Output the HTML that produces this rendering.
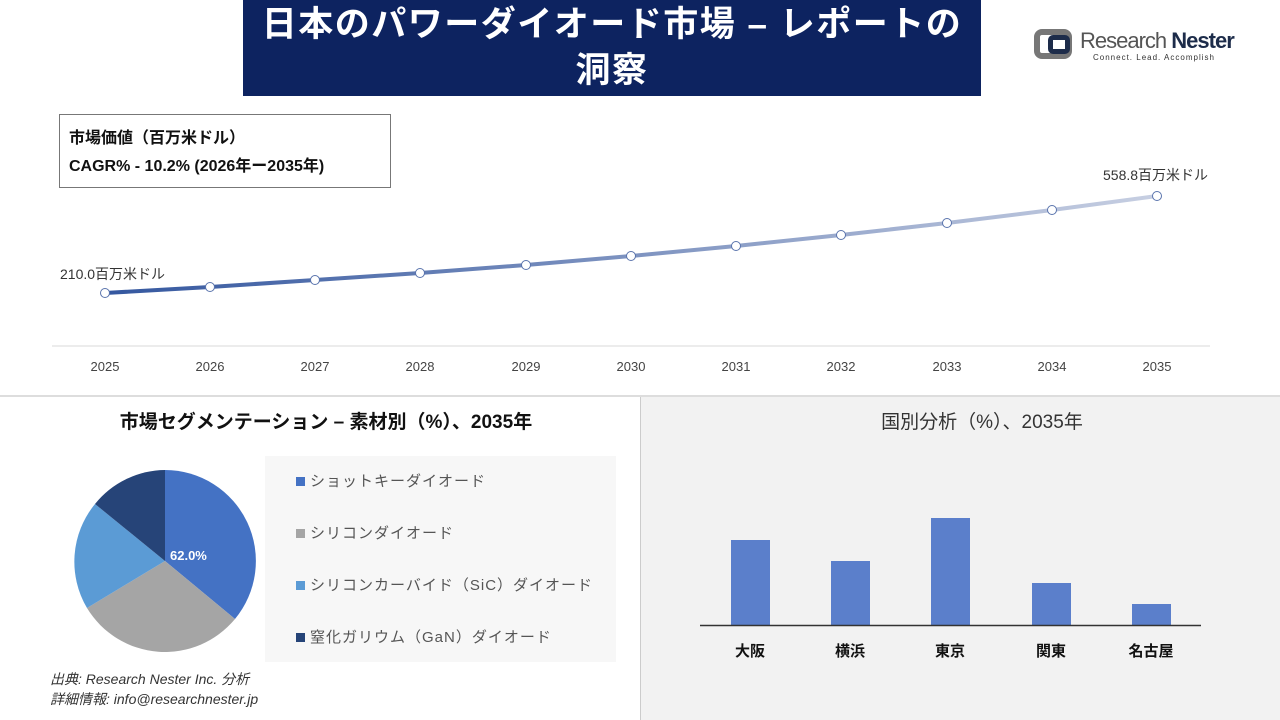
<!DOCTYPE html>
<html><head><meta charset="utf-8"><style>
body{margin:0;width:1280px;height:720px;background:#fff;position:relative;overflow:hidden;font-family:"Liberation Sans","Noto Sans CJK JP",sans-serif}
.a{position:absolute}
</style></head><body>
<div class="a" style="left:243px;top:0;width:738px;height:96px;background:#0d2360;color:#fff;font-size:35px;letter-spacing:1.5px;font-weight:bold;text-align:center;line-height:46px;padding-top:2px;box-sizing:border-box">日本のパワーダイオード市場 – レポートの<br>洞察</div>
<div class="a" style="left:1034px;top:29px;width:38px;height:30px;border:6px solid #777;border-radius:8px;box-sizing:border-box"></div>
<div class="a" style="left:1048px;top:35px;width:22px;height:19px;border:5px solid #1d2c4a;border-radius:5px;box-sizing:border-box"></div>
<div class="a" style="left:1080px;top:28px;font-size:22px;color:#555;letter-spacing:-1px">Research <b style="color:#1d2c4a">Nester</b></div>
<div class="a" style="left:1093px;top:53px;font-size:8px;color:#333;letter-spacing:1px">Connect. Lead. Accomplish</div>
<div class="a" style="left:59px;top:114px;width:332px;height:74px;border:1px solid #777;box-sizing:border-box;font-size:16px;font-weight:bold;color:#111;padding:10px 9px;line-height:28px">市場価値（百万米ドル）<br>CAGR% - 10.2% (2026年ー2035年)</div>
<svg class="a" style="left:0;top:0" width="1280" height="720">
<defs><linearGradient id="g" x1="105" x2="1157" gradientUnits="userSpaceOnUse"><stop offset="0" stop-color="#34579f"/><stop offset="1" stop-color="#c7cfe2"/></linearGradient></defs>
<line x1="52" y1="346" x2="1210" y2="346" stroke="#d9d9d9"/>
<polyline fill="none" stroke="url(#g)" stroke-width="4" points="105,293 210,287 315,280 420,273 526,265 631,256 736,246 841,235 947,223 1052,210 1157,196"/>
<g fill="#fff" stroke="#5a74ad" stroke-width="1">
<circle cx="105" cy="293" r="4.5"/><circle cx="210" cy="287" r="4.5"/><circle cx="315" cy="280" r="4.5"/><circle cx="420" cy="273" r="4.5"/><circle cx="526" cy="265" r="4.5"/><circle cx="631" cy="256" r="4.5"/><circle cx="736" cy="246" r="4.5"/><circle cx="841" cy="235" r="4.5"/><circle cx="947" cy="223" r="4.5"/><circle cx="1052" cy="210" r="4.5"/><circle cx="1157" cy="196" r="4.5"/></g>
<g font-size="13" fill="#444" text-anchor="middle">
<text x="105" y="371">2025</text><text x="210" y="371">2026</text><text x="315" y="371">2027</text><text x="420" y="371">2028</text><text x="526" y="371">2029</text><text x="631" y="371">2030</text><text x="736" y="371">2031</text><text x="841" y="371">2032</text><text x="947" y="371">2033</text><text x="1052" y="371">2034</text><text x="1157" y="371">2035</text></g>
<text x="60" y="279" font-size="14" fill="#333">210.0百万米ドル</text>
<text x="1103" y="180" font-size="14" fill="#333">558.8百万米ドル</text>
<line x1="0" y1="396" x2="1280" y2="396" stroke="#bbb"/>
<rect x="641" y="397" width="639" height="323" fill="#f2f2f2"/>
<line x1="640.5" y1="397" x2="640.5" y2="720" stroke="#ccc"/>
<rect x="265" y="456" width="351" height="206" fill="#f7f7f7"/>
<g transform="translate(165,561)">
<path d="M0,0 L0,-91 A91,91 0 0 1 70,58 Z" fill="#4472c4"/>
<path d="M0,0 L70,58 A91,91 0 0 1 -78,47 Z" fill="#a5a5a5"/>
<path d="M0,0 L-78,47 A91,91 0 0 1 -70,-57 Z" fill="#5b9bd5"/>
<path d="M0,0 L-70,-57 A91,91 0 0 1 0,-91 Z" fill="#264478"/>
</g>
<text x="170" y="560" font-size="13" font-weight="bold" fill="#fff">62.0%</text>
<g font-size="15" fill="#555" letter-spacing="1">
<rect x="296" y="477" width="9" height="9" fill="#4472c4"/><text x="310" y="486">ショットキーダイオード</text>
<rect x="296" y="529" width="9" height="9" fill="#a5a5a5"/><text x="310" y="538">シリコンダイオード</text>
<rect x="296" y="581" width="9" height="9" fill="#5b9bd5"/><text x="310" y="590">シリコンカーバイド（SiC）ダイオード</text>
<rect x="296" y="633" width="9" height="9" fill="#264478"/><text x="310" y="642">窒化ガリウム（GaN）ダイオード</text></g>
<g fill="#5b7fcb"><rect x="731" y="540" width="39" height="85"/><rect x="831" y="561" width="39" height="64"/><rect x="931" y="518" width="39" height="107"/><rect x="1032" y="583" width="39" height="42"/><rect x="1132" y="604" width="39" height="21"/></g>
<line x1="700" y1="625.5" x2="1201" y2="625.5" stroke="#333" stroke-width="1.5"/>
<g font-size="15" font-weight="bold" fill="#111" text-anchor="middle"><text x="750" y="656">大阪</text><text x="850" y="656">横浜</text><text x="950" y="656">東京</text><text x="1051" y="656">関東</text><text x="1151" y="656">名古屋</text></g>
<text x="326" y="428" font-size="19" font-weight="bold" fill="#111" text-anchor="middle">市場セグメンテーション – 素材別（%）、2035年</text>
<text x="982" y="428" font-size="19" fill="#333" text-anchor="middle">国別分析（%）、2035年</text>
<g font-size="14" font-style="italic" fill="#333"><text x="50" y="684">出典: Research Nester Inc. 分析</text><text x="50" y="704">詳細情報: info@researchnester.jp</text></g>
</svg>
</body></html>
